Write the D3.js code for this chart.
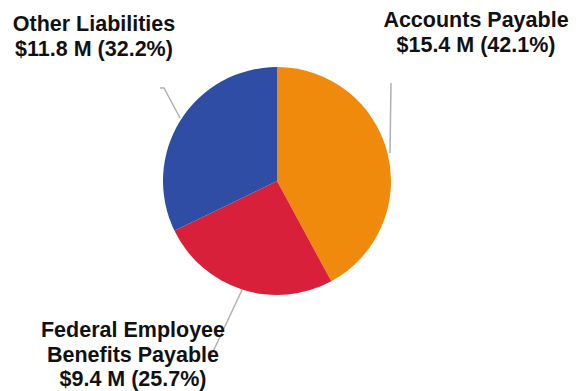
<!DOCTYPE html>
<html>
<head>
<meta charset="utf-8">
<script src="https://cdn.jsdelivr.net/npm/d3@7"></script>
<style>
  html, body { margin: 0; padding: 0; background: #ffffff; }
  svg { display: block; }
  text { font-family: "Liberation Sans", Arial, sans-serif; font-weight: bold; fill: #111; }
</style>
</head>
<body>
<script>
// Liabilities breakdown (millions of dollars)
const categories = ["Accounts Payable", "Federal Employee Benefits Payable", "Other Liabilities"];
const values = [15.4, 9.4, 11.8];
const percents = [42.1, 25.7, 32.2];
const labelLines = [
  ["Accounts Payable", "$15.4 M (42.1%)"],
  ["Federal Employee", "Benefits Payable", "$9.4 M (25.7%)"],
  ["Other Liabilities", "$11.8 M (32.2%)"]
];
const colors = ["#EF8A0C", "#D8203A", "#2F4DA5"];

const width = 580, height = 391;
const cx = 277, cy = 181, radius = 114;

const svg = d3.select("body").append("svg")
  .attr("width", width).attr("height", height);

const pie = d3.pie().sort(null).value(d => d);
const arcs = pie(percents);
const arc = d3.arc().innerRadius(0).outerRadius(radius);

const g = svg.append("g").attr("transform", `translate(${cx},${cy})`);

// Leader lines from each slice edge toward its label
const leaders = [
  [[113, -28], [114, -98]],
  [[-35, 109], [-66, 175]],
  [[-97, -63], [-113, -93], [-117, -93]]
];
g.selectAll("path.leader").data(leaders).join("path")
  .attr("class", "leader")
  .attr("d", d => d3.line()(d))
  .attr("fill", "none")
  .attr("stroke", "#b0b0b0")
  .attr("stroke-width", 1.5);

g.selectAll("path.slice").data(arcs).join("path")
  .attr("class", "slice")
  .attr("d", arc)
  .attr("fill", (d, i) => colors[i]);

// Labels
const labelPos = [
  { x: 476, y: 27 },
  { x: 133, y: 337 },
  { x: 94, y: 31 }
];
const lineHeight = 24.5;
labelLines.forEach((lines, i) => {
  const t = svg.append("text")
    .attr("text-anchor", "middle")
    .attr("font-size", 21.5)
    .attr("x", labelPos[i].x)
    .attr("y", labelPos[i].y);
  lines.forEach((s, j) => {
    t.append("tspan")
      .attr("x", labelPos[i].x)
      .attr("dy", j === 0 ? 0 : lineHeight)
      .text(s);
  });
});
</script>
</body>
</html>
